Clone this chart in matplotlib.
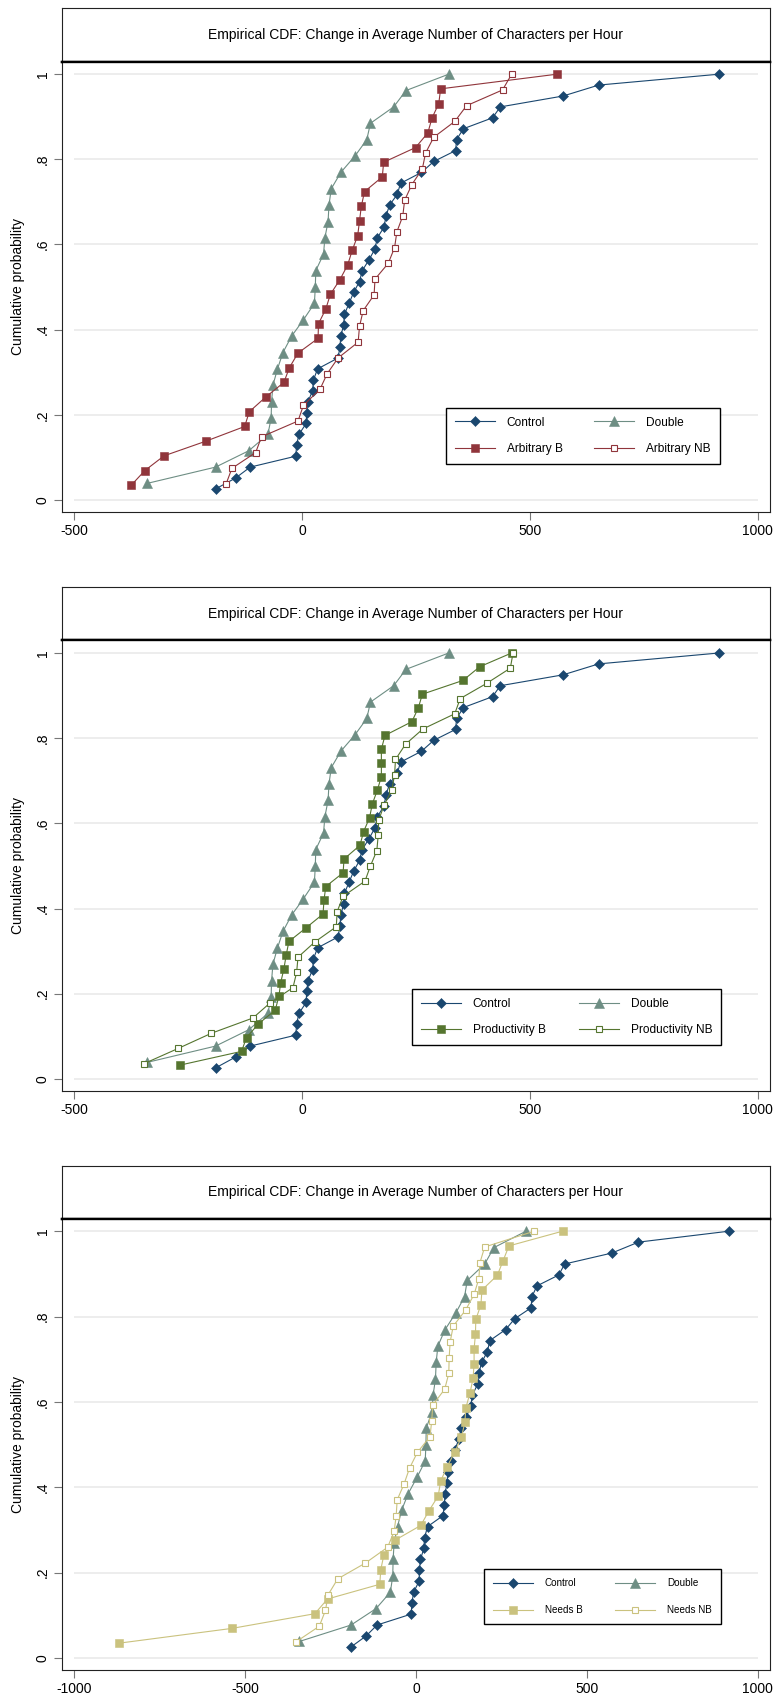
import numpy as np
import matplotlib
matplotlib.use("Agg")
import matplotlib.pyplot as plt

plt.rcParams['font.family'] = ['Liberation Sans', 'DejaVu Sans']

# change in average characters per hour, one value per subject (sorted)
control = [-190, -146, -114, -14, -12, -7, 9, 10, 13, 23, 25, 34, 79, 83, 85,
           91, 93, 103, 113, 126, 132, 147, 160, 165, 180, 184, 192, 209, 216,
           262, 289, 337, 339, 354, 418, 435, 573, 651, 916]
double = [-341, -190, -117, -75, -68, -67, -64, -54, -42, -23, 3, 27, 29, 30,
          47, 50, 57, 59, 64, 85, 116, 142, 150, 201, 228, 322]
arbitrary_b = [-375, -345, -303, -211, -126, -116, -80, -40, -28, -9, 35, 36,
               52, 62, 83, 100, 110, 122, 126, 130, 137, 176, 179, 249, 276,
               285, 300, 304, 560]
arbitrary_nb = [-167, -154, -102, -89, -9, 3, 39, 55, 79, 123, 126, 134, 158,
                160, 189, 203, 208, 221, 225, 241, 264, 271, 289, 335, 361,
                440, 460]
productivity_b = [-268, -133, -122, -96, -59, -51, -47, -40, -35, -29, 9, 46,
                  48, 52, 90, 92, 127, 135, 148, 154, 165, 174, 174, 174, 182,
                  241, 255, 264, 353, 390, 460]
productivity_nb = [-347, -272, -199, -108, -70, -20, -12, -9, 28, 75, 77, 90,
                   138, 150, 164, 168, 167, 180, 197, 203, 205, 227, 265, 335,
                   347, 405, 457, 463]
needs_b = [-868, -539, -296, -259, -106, -103, -94, -61, 14, 38, 65, 72, 91,
           114, 133, 143, 146, 158, 167, 170, 170, 174, 175, 190, 193, 238,
           255, 272, 429]
needs_nb = [-352, -283, -265, -257, -229, -148, -83, -64, -58, -55, -35, -19,
            4, 41, 46, 49, 84, 96, 97, 100, 109, 145, 170, 184, 187, 201, 346]

title = "Empirical CDF: Change in Average Number of Characters per Hour"
yticks = [0, 0.2, 0.4, 0.6, 0.8, 1.0]
ytick_labels = ["0", ".2", ".4", ".6", ".8", "1"]

navy = "#1a476f"
teal = "#6e8e84"
maroon = "#90353b"
green = "#55752f"
khaki = "#cac27e"

W, H = 773, 1695
fig = plt.figure(figsize=(W / 100, H / 100), dpi=100)


def px_rect(top, bottom):
    return [62 / W, 1 - bottom / H, 708 / W, (bottom - top) / H]


def ecdf_line(ax, vals, color, marker, ms, hollow, label):
    x = np.sort(np.array(vals, dtype=float))
    y = np.arange(1, len(x) + 1) / len(x)
    ax.plot(x, y, color=color, lw=0.8, marker=marker, ms=ms,
            mfc='white' if hollow else color, mec=color, mew=0.8 if hollow else 0.4,
            label=label, zorder=3)


panels = [
    dict(top=7.6, line=61.6, bottom=512, xlim=(-527, 1027), xticks=[-500, 0, 500, 1000],
         group=(arbitrary_b, arbitrary_nb), names=("Arbitrary B", "Arbitrary NB"),
         color=maroon, leg=(0.542, 0.107, 0.387), lfs=8.6),
    dict(top=587, line=640.4, bottom=1091, xlim=(-527, 1027), xticks=[-500, 0, 500, 1000],
         group=(productivity_b, productivity_nb), names=("Productivity B", "Productivity NB"),
         color=green, leg=(0.494, 0.102, 0.437), lfs=8.6),
    dict(top=1166, line=1218.6, bottom=1670, xlim=(-1036, 1036), xticks=[-1000, -500, 0, 500, 1000],
         group=(needs_b, needs_nb), names=("Needs B", "Needs NB"),
         color=khaki, leg=(0.596, 0.102, 0.335), lfs=7.1),
]

for p in panels:
    # title box
    axt = fig.add_axes(px_rect(p['top'], p['line']))
    axt.set_xticks([])
    axt.set_yticks([])
    for s in axt.spines.values():
        s.set_linewidth(0.8)
        s.set_color('#222222')
    axt.spines['bottom'].set_linewidth(1.7)
    axt.spines['bottom'].set_color('black')
    axt.text(0.5, 0.5, title, ha='center', va='center', fontsize=10,
             transform=axt.transAxes)

    ax = fig.add_axes(px_rect(p['line'], p['bottom']))
    ax.set_xlim(*p['xlim'])
    ax.set_ylim(-0.0285, 1.0295)
    ax.hlines(yticks, p['xticks'][0], p['xticks'][-1], color='#eaeaea', lw=1.2, zorder=1)

    ecdf_line(ax, control, navy, 'D', 4.8, False, "Control")
    ecdf_line(ax, double, teal, '^', 6.5, False, "Double")
    ecdf_line(ax, p['group'][0], p['color'], 's', 5.5, False, p['names'][0])
    ecdf_line(ax, p['group'][1], p['color'], 's', 4.4, True, p['names'][1])

    ax.set_xticks(p['xticks'])
    ax.set_xticklabels([str(t) for t in p['xticks']])
    ax.set_yticks(yticks)
    ax.set_yticklabels(ytick_labels, rotation=90, va='center')
    ax.tick_params(direction='out', length=5.8, width=0.8, color='#777777',
                   labelsize=10, pad=3)
    for s in ax.spines.values():
        s.set_linewidth(0.8)
        s.set_color('#222222')
    ax.spines['top'].set_linewidth(1.7)
    ax.spines['top'].set_color('black')
    ax.set_ylabel("Cumulative probability", fontsize=10)
    ax.yaxis.set_label_coords(-0.052, 0.5)

    em = p['lfs'] * 100 / 72
    lx, ly, lw_ = p['leg']
    h, l = ax.get_legend_handles_labels()
    # legend fills column by column; reorder so rows read Control/Double, B/NB
    order = [0, 2, 1, 3]
    leg = ax.legend([h[i] for i in order], [l[i] for i in order], ncol=2,
                    loc='lower left', bbox_to_anchor=(lx, ly, lw_, 0.1),
                    mode='expand', fontsize=p['lfs'], frameon=True, fancybox=False,
                    framealpha=1, edgecolor='black', handlelength=40 / em,
                    handletextpad=12 / em, borderpad=9 / em, labelspacing=(28 - 1.15 * em) / em,
                    borderaxespad=0)
    leg.get_frame().set_linewidth(1.0)
    leg.set_zorder(5)

fig.savefig("out.png", dpi=100)
